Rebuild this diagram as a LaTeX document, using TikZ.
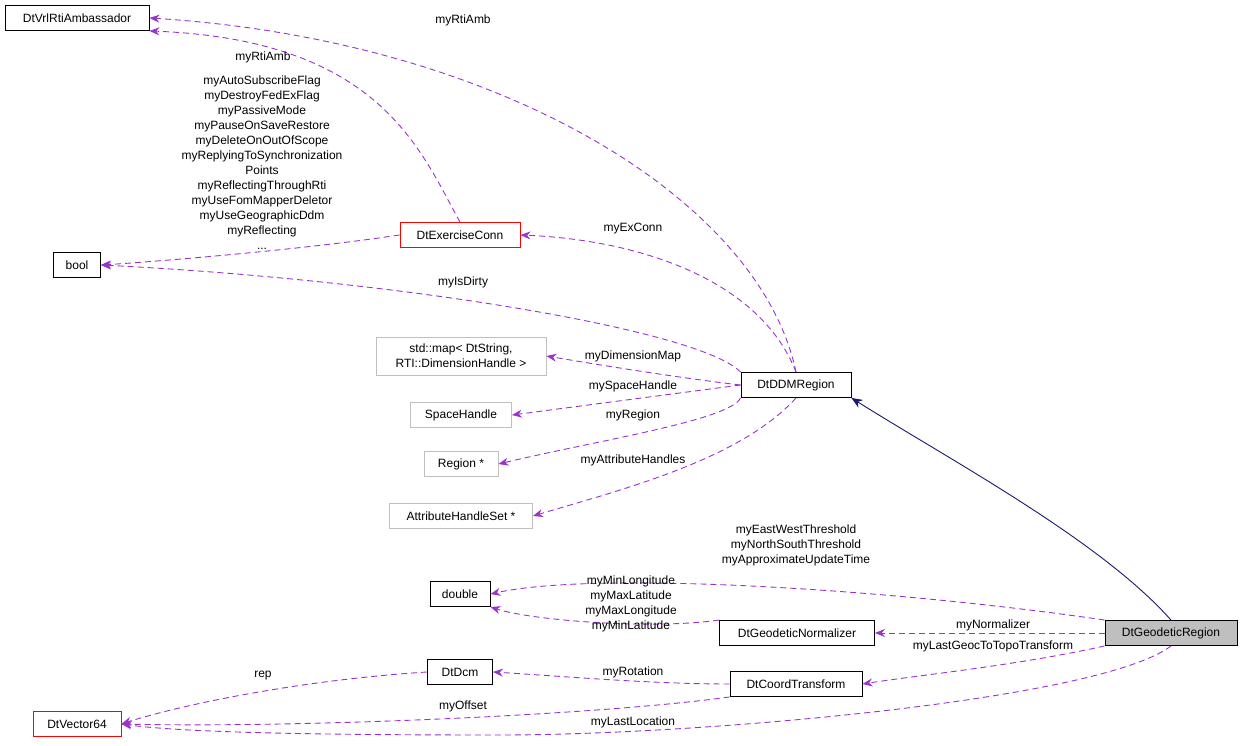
\documentclass[tikz,border=0pt]{standalone}
\usepackage{fontspec}
\setmainfont{Liberation Sans}
\usetikzlibrary{arrows.meta}
\definecolor{pur}{HTML}{9A32CD}
\definecolor{nav}{HTML}{191970}
\definecolor{gr}{HTML}{BFBFBF}
\begin{document}
\begin{tikzpicture}[x=1pt,y=-1pt,font=\fontsize{12}{15}\selectfont,
 box/.style={draw=black,fill=white,inner sep=0pt,minimum height=25pt,align=center,line width=0.9pt},
 gbox/.style={box,draw=gr},
 rbox/.style={box,draw=red},
 dep/.style={draw=pur,line width=0.9pt,dash pattern=on 6pt off 4pt,-{Stealth[length=10pt,width=8pt]},fill=none},
 lab/.style={align=center,inner sep=0pt},
 inh/.style={draw=nav,line width=0.9pt,-{Stealth[length=11pt,width=9pt]}}]
\useasboundingbox (0,0) rectangle (1243,745);
\node[box,minimum width=144pt] (vrl) at (77,18) {DtVrlRtiAmbassador};
\node[box,minimum width=47pt] (bool) at (77,265) {bool};
\node[gbox,minimum width=170pt,minimum height=38pt] (map) at (461,356) {std::map< DtString,\\ RTI::DimensionHandle >};
\node[gbox,minimum width=101pt] (sh) at (461,415) {SpaceHandle};
\node[gbox,minimum width=74pt] (reg) at (461,464) {Region *};
\node[gbox,minimum width=143pt] (ahs) at (461,516) {AttributeHandleSet *};
\node[rbox,minimum width=120pt] (ex) at (460,235) {DtExerciseConn};
\node[box,minimum width=110pt] (ddm) at (796,385) {DtDDMRegion};
\node[box,minimum width=60pt] (dbl) at (460,594) {double};
\node[box,minimum width=155pt] (gn) at (797,633) {DtGeodeticNormalizer};
\node[box,minimum width=65pt] (dcm) at (460,672) {DtDcm};
\node[box,minimum width=132pt] (ct) at (796,684) {DtCoordTransform};
\node[rbox,minimum width=88pt] (v64) at (77,724) {DtVector64};
\node[box,fill=gr,minimum width=132pt] (geo) at (1171,633) {DtGeodeticRegion};

\draw[dep] (ddm.north) .. controls (760,200) and (500,40) .. (vrl.east);
\node[lab] at (463,20) {myRtiAmb};
\draw[dep] (ex.north) .. controls (420,150) and (380,40) .. (vrl.south east);
\node[lab] at (263,57) {myRtiAmb};
\draw[dep] (ex.west) .. controls (300,250) and (150,262) .. (bool.east);
\node[lab] at (262,163) {myAutoSubscribeFlag\\myDestroyFedExFlag\\myPassiveMode\\myPauseOnSaveRestore\\myDeleteOnOutOfScope\\myReplyingToSynchronization\\Points\\myReflectingThroughRti\\myUseFomMapperDeletor\\myUseGeographicDdm\\myReflecting\\...};
\draw[dep] (ddm.north) .. controls (760,280) and (640,240) .. (ex.east);
\node[lab] at (633,229) {myExConn};
\draw[dep] (ddm.north west) .. controls (700,330) and (400,280) .. (bool.east);
\node[lab] at (463,282) {myIsDirty};
\draw[dep] (ddm.west) .. controls (680,378) and (600,365) .. (map.east);
\node[lab] at (633,356) {myDimensionMap};
\draw[dep] (ddm.west) -- (sh.east);
\node[lab] at (633,386) {mySpaceHandle};
\draw[dep] (ddm.south west) .. controls (730,420) and (600,440) .. (reg.east);
\node[lab] at (633,415) {myRegion};
\draw[dep] (ddm.south) .. controls (740,460) and (620,490) .. (ahs.east);
\node[lab] at (633,460) {myAttributeHandles};
\draw[inh] (geo.north) .. controls (1100,540) and (950,460) .. (ddm.south east);
\draw[dep] (geo.north west) .. controls (900,590) and (600,570) .. (dbl.east);
\node[lab] at (796,545) {myEastWestThreshold\\myNorthSouthThreshold\\myApproximateUpdateTime};
\draw[dep] (gn.north west) .. controls (650,630) and (530,620) .. (dbl.south east);
\node[lab] at (631,604) {myMinLongitude\\myMaxLatitude\\myMaxLongitude\\myMinLatitude};
\draw[dep] (geo.west) -- (gn.east);
\node[lab] at (993,625) {myNormalizer};
\draw[dep] (geo.south west) .. controls (1020,665) and (920,675) .. (ct.east);
\node[lab] at (993,646) {myLastGeocToTopoTransform};
\draw[dep] (ct.west) .. controls (650,684) and (560,676) .. (dcm.east);
\node[lab] at (633,672) {myRotation};
\draw[dep] (dcm.west) .. controls (300,680) and (180,705) .. (v64.east);
\node[lab] at (263,676) {rep};
\draw[dep] (ct.south west) .. controls (600,715) and (300,728) .. (v64.east);
\node[lab] at (463,706) {myOffset};
\draw[dep] (geo.south) .. controls (1100,700) and (700,735) .. (500,735) .. controls (300,735) and (180,732) .. (v64.east);
\node[lab] at (633,722) {myLastLocation};
\end{tikzpicture}
\end{document}
